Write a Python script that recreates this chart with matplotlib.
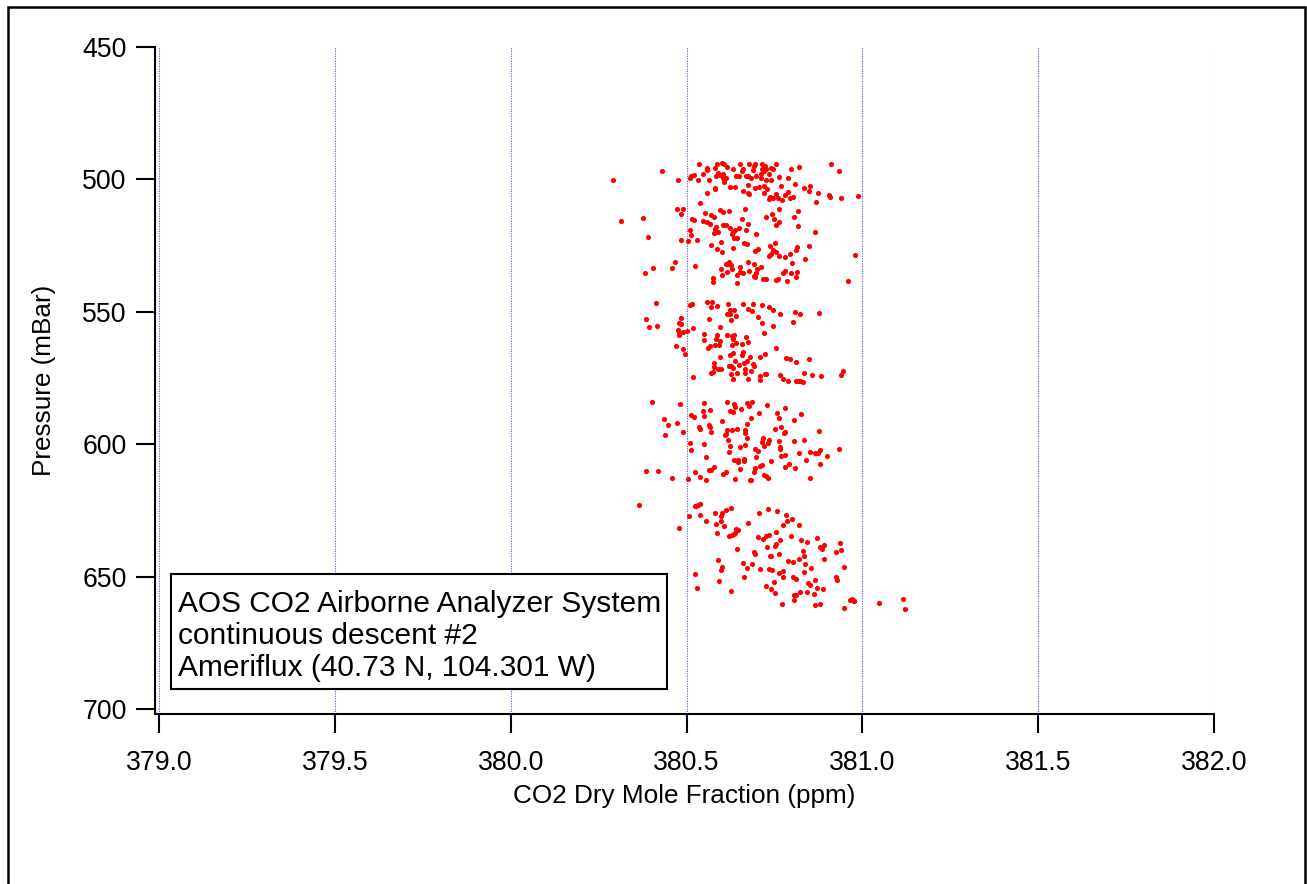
import matplotlib
matplotlib.use("Agg")
import matplotlib.pyplot as plt
from matplotlib.patches import Rectangle
import numpy as np

plt.rcParams['font.family'] = ['Liberation Sans', 'DejaVu Sans']

# ---- data: CO2 dry mole fraction (ppm) vs pressure (mBar) ----
co2_band1 = [
    380.535, 380.586, 380.602, 380.608, 380.615, 380.651, 380.677, 380.694, 380.693, 380.715,
    380.723, 380.739, 380.755, 380.745, 380.911, 380.933, 380.820, 380.797, 380.429, 380.290,
    380.477, 380.559, 380.558, 380.580, 380.589, 380.594, 380.603, 380.632, 380.662, 380.658,
    380.689, 380.715, 380.719, 380.727, 380.736, 380.713, 380.698, 380.641, 380.648, 380.670,
    380.676, 380.613, 380.605, 380.584, 380.547, 380.521, 380.513, 380.509, 380.533, 380.563,
    380.607, 380.684, 380.711, 380.725, 380.740, 380.764, 380.788, 380.769, 380.808, 380.833,
    380.850, 380.847, 380.874, 380.906, 380.908, 380.939, 380.987, 380.867, 380.624, 380.638,
    380.676, 380.696, 380.705, 380.719, 380.728, 380.660, 380.674, 380.677, 380.581, 380.581,
    380.559, 380.721, 380.755, 380.738, 380.736, 380.745, 380.760, 380.772, 380.780, 380.790,
    380.795, 380.802, 380.539, 380.473, 380.491, 380.484, 380.315, 380.377, 380.391, 380.483,
    380.504, 380.530, 380.510, 380.513, 380.594, 380.603, 380.622, 380.667, 380.764, 380.818,
    380.805, 380.744, 380.727, 380.749, 380.764, 380.754, 380.816, 380.864, 380.554, 380.570,
    380.578, 380.517, 380.521, 380.547, 380.559, 380.566, 380.658, 380.674, 380.605, 380.613,
    380.624, 380.649, 380.639, 380.632, 380.628, 380.643, 380.635, 380.584, 380.580, 380.589,
    380.577, 380.668, 380.698, 380.569, 380.586, 380.602, 380.597, 380.632, 380.663, 380.673,
    380.703, 380.695, 380.738, 380.752, 380.745, 380.741, 380.734, 380.755, 380.764, 380.780,
    380.793, 380.812, 380.815, 380.848, 380.838, 380.980, 380.800, 380.467, 380.458, 380.405,
    380.381, 380.525, 380.622, 380.619, 380.627, 380.613, 380.653, 380.674, 380.691, 380.712,
    380.700, 380.677, 380.653, 380.660, 380.698, 380.692, 380.643, 380.630, 380.615, 380.599,
    380.600, 380.574, 380.574, 380.645, 380.694, 380.717, 380.727, 380.755, 380.760, 380.774,
    380.781, 380.796, 380.813, 380.812, 380.787, 380.959]
p_band1 = [
    494.1, 494.3, 493.7, 494.1, 495.3, 494.0, 494.0, 494.3, 495.1, 494.1,
    495.0, 495.6, 494.0, 496.2, 494.0, 496.9, 495.2, 496.0, 496.9, 500.4,
    500.3, 495.8, 496.5, 495.8, 497.7, 498.4, 498.1, 496.2, 496.2, 496.9,
    496.6, 496.2, 496.9, 496.2, 498.1, 498.1, 498.7, 498.7, 498.7, 498.7,
    498.7, 499.6, 499.4, 498.7, 498.1, 498.5, 498.9, 499.4, 500.4, 500.4,
    500.9, 499.6, 499.6, 500.4, 500.3, 499.0, 499.6, 502.5, 501.9, 503.2,
    502.6, 504.4, 505.3, 505.9, 506.6, 506.9, 506.3, 508.4, 502.8, 502.9,
    502.3, 503.4, 502.8, 502.5, 503.8, 504.2, 505.0, 505.4, 503.2, 503.8,
    505.3, 505.0, 505.4, 506.7, 507.4, 507.2, 507.2, 507.9, 505.9, 504.7,
    506.9, 506.6, 508.8, 511.1, 511.0, 513.0, 515.8, 514.5, 521.6, 522.7,
    523.3, 522.9, 519.3, 521.0, 511.7, 512.5, 512.0, 511.3, 511.0, 512.0,
    514.1, 513.2, 514.2, 514.9, 516.0, 517.3, 517.7, 519.9, 512.7, 513.6,
    514.1, 514.9, 515.5, 515.8, 516.0, 516.8, 515.1, 517.0, 517.3, 517.4,
    518.3, 518.5, 519.3, 519.8, 520.8, 522.1, 522.1, 518.0, 518.9, 519.8,
    520.4, 519.3, 520.8, 524.8, 526.2, 527.6, 523.6, 525.8, 524.2, 524.3,
    526.3, 527.1, 525.0, 524.2, 526.5, 528.1, 529.0, 527.5, 529.0, 529.2,
    528.1, 526.8, 525.5, 525.3, 529.9, 528.6, 531.5, 531.3, 533.4, 533.5,
    535.3, 532.8, 531.1, 531.8, 532.5, 532.1, 533.0, 531.1, 532.1, 533.0,
    534.0, 534.6, 535.0, 535.3, 535.5, 536.3, 536.2, 534.0, 534.9, 533.8,
    536.2, 537.4, 538.8, 539.1, 536.9, 537.8, 537.8, 537.9, 537.6, 535.5,
    534.7, 535.5, 534.9, 536.7, 538.2, 538.4]

co2_band2 = [
    380.414, 380.386, 380.392, 380.417, 380.483, 380.478, 380.485, 380.476, 380.478, 380.480,
    380.490, 380.501, 380.518, 380.469, 380.490, 380.495, 380.519, 380.511, 380.516, 380.558,
    380.572, 380.570, 380.587, 380.618, 380.660, 380.689, 380.676, 380.687, 380.714, 380.736,
    380.747, 380.766, 380.809, 380.822, 380.878, 380.802, 380.623, 380.614, 380.624, 380.634,
    380.641, 380.626, 380.564, 380.703, 380.716, 380.745, 380.720, 380.594, 380.551, 380.549,
    380.562, 380.566, 380.581, 380.583, 380.586, 380.594, 380.591, 380.616, 380.629, 380.635,
    380.632, 380.630, 380.641, 380.659, 380.668, 380.675, 380.755, 380.722, 380.708, 380.784,
    380.793, 380.849, 380.810, 380.660, 380.658, 380.632, 380.624, 380.596, 380.577, 380.578,
    380.590, 380.599, 380.571, 380.575, 380.621, 380.627, 380.632, 380.649, 380.663, 380.673,
    380.680, 380.689, 380.692, 380.638, 380.665, 380.665, 380.684, 380.645, 380.627, 380.631,
    380.676, 380.709, 380.708, 380.724, 380.727, 380.765, 380.773, 380.790, 380.812, 380.819,
    380.824, 380.830, 380.834, 380.858, 380.882, 380.939, 380.945]
p_band2 = [
    546.6, 552.7, 555.6, 555.3, 552.4, 554.4, 554.8, 556.7, 557.6, 558.6,
    557.6, 557.3, 556.3, 563.0, 563.9, 566.0, 574.7, 547.6, 546.9, 546.4,
    546.4, 548.3, 547.9, 546.9, 547.0, 546.9, 548.8, 549.8, 547.3, 548.3,
    549.5, 551.0, 550.0, 550.7, 550.4, 553.8, 549.2, 550.8, 551.0, 549.5,
    551.7, 553.1, 552.7, 552.0, 554.2, 555.5, 558.0, 555.8, 558.2, 560.7,
    563.6, 563.1, 562.4, 560.1, 558.9, 561.1, 562.4, 558.9, 559.2, 558.9,
    560.1, 562.4, 561.8, 562.0, 559.4, 561.4, 563.6, 565.8, 566.9, 567.3,
    567.7, 567.8, 569.1, 565.2, 566.5, 565.4, 566.5, 567.2, 569.2, 571.0,
    571.6, 571.6, 573.0, 572.8, 570.3, 570.6, 571.2, 570.0, 569.3, 568.4,
    567.2, 569.7, 570.6, 568.4, 571.5, 573.2, 572.5, 573.0, 573.5, 575.4,
    575.5, 574.4, 575.6, 573.4, 573.5, 573.7, 575.2, 576.2, 576.2, 576.0,
    576.2, 576.5, 573.2, 574.0, 574.2, 573.7, 572.3]

co2_band3 = [
    380.403, 380.482, 380.549, 380.616, 380.636, 380.639, 380.671, 380.679, 380.687, 380.728,
    380.779, 380.655, 380.625, 380.632, 380.566, 380.546, 380.551, 380.512, 380.522, 380.706,
    380.758, 380.762, 380.827, 380.806, 380.435, 380.448, 380.472, 380.438, 380.491, 380.601,
    380.565, 380.566, 380.535, 380.537, 380.571, 380.614, 380.630, 380.644, 380.609, 380.612,
    380.617, 380.665, 380.667, 380.673, 380.672, 380.682, 380.752, 380.769, 380.781, 380.776,
    380.878, 380.509, 380.514, 380.551, 380.625, 380.620, 380.652, 380.667, 380.695, 380.704,
    380.715, 380.719, 380.732, 380.735, 380.717, 380.762, 380.765, 380.767, 380.807, 380.833,
    380.819, 380.781, 380.770, 380.851, 380.864, 380.873, 380.880, 380.899, 380.935, 380.556,
    380.634, 380.646, 380.647, 380.664, 380.664, 380.699, 380.741, 380.840, 380.879, 380.791,
    380.779, 380.808, 380.386, 380.418, 380.458, 380.503, 380.525, 380.539, 380.555, 380.563,
    380.570, 380.579, 380.605, 380.613, 380.639, 380.651, 380.693, 380.696, 380.708, 380.715,
    380.719, 380.727, 380.732, 380.681, 380.684, 380.851]
p_band3 = [
    584.1, 584.7, 584.4, 584.1, 584.8, 585.9, 584.4, 585.4, 584.1, 585.2,
    586.2, 586.7, 587.3, 588.0, 587.1, 587.6, 589.2, 589.0, 589.6, 588.2,
    588.1, 590.0, 588.6, 590.9, 590.6, 592.9, 592.0, 596.5, 595.4, 591.2,
    592.7, 593.6, 593.6, 594.3, 595.5, 594.5, 594.5, 594.1, 596.5, 596.0,
    598.5, 594.8, 595.8, 597.7, 592.4, 590.2, 594.4, 593.4, 595.4, 595.9,
    595.0, 599.6, 602.2, 599.8, 600.7, 603.1, 601.2, 600.3, 601.7, 602.5,
    599.3, 600.8, 599.6, 598.3, 597.8, 598.7, 601.1, 601.8, 598.7, 598.5,
    603.5, 604.1, 604.3, 602.8, 603.3, 603.3, 602.3, 604.5, 601.7, 605.0,
    605.9, 606.1, 606.9, 605.6, 606.5, 604.7, 606.5, 606.0, 607.6, 607.6,
    608.6, 608.9, 610.3, 610.0, 612.8, 613.3, 610.6, 612.3, 613.5, 609.6,
    609.6, 608.6, 611.3, 610.5, 613.3, 609.4, 610.4, 609.0, 608.3, 607.9,
    611.5, 611.9, 612.8, 613.7, 613.4, 612.7]

co2_band4 = [
    380.366, 380.478, 380.525, 380.528, 380.532, 380.537, 380.507, 380.539, 380.556, 380.580,
    380.584, 380.601, 380.599, 380.599, 380.613, 380.627, 380.608, 380.588, 380.674, 380.706,
    380.733, 380.756, 380.784, 380.799, 380.786, 380.775, 380.820, 380.622, 380.630, 380.638,
    380.641, 380.646, 380.636, 380.703, 380.717, 380.727, 380.736, 380.755, 380.767, 380.798,
    380.755, 380.752, 380.728, 380.827, 380.843, 380.870, 380.890, 380.880, 380.885, 380.937,
    380.939, 380.924, 380.645, 380.693, 380.695, 380.831, 380.835, 380.821, 380.737, 380.741,
    380.763, 380.589, 380.601, 380.598, 380.661, 380.673, 380.685, 380.708, 380.735, 380.742,
    380.774, 380.763, 380.773, 380.789, 380.803, 380.838, 380.855, 380.833, 380.890, 380.948,
    380.802, 380.810, 380.846, 380.852, 380.866, 380.925, 380.929, 380.525, 380.530, 380.591,
    380.626, 380.664, 380.726, 380.740, 380.748, 380.753, 380.807, 380.812, 380.805, 380.824,
    380.844, 380.862, 380.870, 380.887, 380.771, 380.864, 380.881, 380.947, 380.966, 380.972,
    380.975, 380.977, 381.048, 381.115, 381.122]
p_band4 = [
    623.0, 631.7, 623.2, 623.5, 622.9, 622.6, 627.2, 626.9, 628.9, 625.9,
    630.1, 626.0, 627.3, 629.0, 625.0, 624.0, 630.8, 633.6, 629.9, 625.9,
    624.4, 625.3, 626.7, 628.2, 628.9, 630.6, 630.6, 634.8, 634.2, 633.6,
    632.1, 632.3, 633.8, 635.1, 635.9, 634.6, 634.2, 633.3, 636.1, 634.5,
    637.6, 638.4, 638.9, 636.1, 637.0, 635.3, 638.0, 638.9, 639.4, 637.4,
    640.0, 640.6, 639.6, 640.6, 641.6, 640.5, 642.2, 643.3, 642.4, 642.2,
    641.5, 643.7, 646.2, 647.4, 644.7, 646.7, 645.1, 647.2, 647.1, 647.4,
    647.8, 648.5, 650.0, 644.0, 644.4, 645.4, 646.6, 648.3, 643.5, 646.3,
    650.2, 651.0, 652.5, 653.1, 651.4, 650.0, 651.4, 649.0, 654.4, 651.6,
    655.4, 650.2, 653.4, 654.8, 652.1, 656.3, 657.1, 656.9, 658.9, 655.8,
    656.0, 656.6, 654.3, 654.6, 660.2, 660.8, 660.4, 661.8, 659.0, 658.5,
    659.4, 659.2, 659.9, 658.5, 662.1]

x_ticks = [379.0, 379.5, 380.0, 380.5, 381.0, 381.5, 382.0]
y_ticks = [450, 500, 550, 600, 650, 700]
x_label = "CO2 Dry Mole Fraction (ppm)"
y_label = "Pressure (mBar)"
annotation = "AOS CO2 Airborne Analyzer System\ncontinuous descent #2\nAmeriflux (40.73 N, 104.301 W)"

co2 = np.concatenate([co2_band1, co2_band2, co2_band3, co2_band4])
pres = np.concatenate([p_band1, p_band2, p_band3, p_band4])

# ---- figure ----
W, H = 1307, 884
fig = plt.figure(figsize=(W / 100, H / 100), dpi=100)

# axes box in pixel terms: left 155, right 1214, top 47, bottom 714
ax = fig.add_axes([155 / W, (H - 714) / H, (1214 - 155) / W, (714 - 47) / H])

ax.plot(co2, pres, linestyle='none', marker='o', markersize=3.7,
        markerfacecolor='#ff0000', markeredgewidth=0, zorder=3)

ax.set_xlim(378.9886, 382.0)
ax.set_ylim(701.9, 450)
ax.set_xticks(x_ticks)
ax.set_xticklabels([f"{v:.1f}" for v in x_ticks])
ax.set_yticks(y_ticks)
ax.set_yticklabels([str(v) for v in y_ticks])

ax.grid(axis='x', color='#6060ff', linestyle=(0, (1.2, 1.2)), linewidth=0.75)
ax.set_axisbelow(True)

for s in ['top', 'right']:
    ax.spines[s].set_visible(False)
for s in ['left', 'bottom']:
    ax.spines[s].set_linewidth(1.5)
    ax.spines[s].set_color('black')

ax.tick_params(axis='both', direction='out', length=13.5, width=1.5,
               labelsize=19.2, colors='black')
ax.tick_params(axis='x', pad=12.5)
ax.tick_params(axis='y', pad=7)

ax.set_xlabel(x_label, fontsize=18.8, labelpad=6)
ax.set_ylabel(y_label, fontsize=18.8, labelpad=19)

# annotation box (frame drawn separately so its extent matches the original)
ax.add_patch(Rectangle((0.0151, 0.0375), 0.4684, 0.1724, transform=ax.transAxes,
                       facecolor='white', edgecolor='black', linewidth=1.5,
                       zorder=5))
ax.text(0.0217, 0.1169, annotation, transform=ax.transAxes,
        fontsize=21.5, ha='left', va='center', linespacing=1.2, zorder=6)

# outer frame
fig.patches.append(Rectangle((8 / W, -0.02), (1305 - 8) / W, (H - 7) / H + 0.02,
                             transform=fig.transFigure, fill=False,
                             edgecolor='black', linewidth=1.8))

fig.savefig("out.png", dpi=100)
